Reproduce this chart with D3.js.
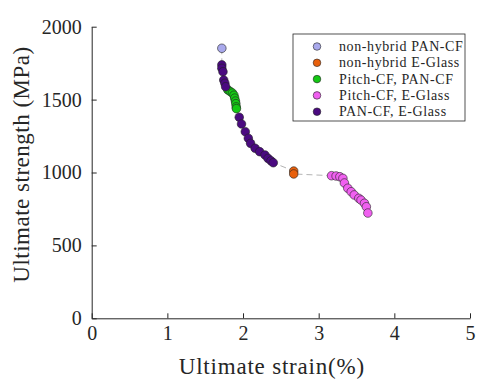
<!DOCTYPE html>
<html>
  <head>
    <meta charset="utf-8">
    <title>Ultimate strength vs ultimate strain</title>
    <script src="https://d3js.org/d3.v7.min.js"></script>
    <style>
      body { margin: 0; background: #fff; }
      text { font-family: "Liberation Serif", "DejaVu Serif", serif; fill: #262626; }
    </style>
  </head>
  <body>
  <svg id="chart" width="477" height="387"></svg>
  <script>
    // series: [strain %, strength MPa]
    var panCF = [[1.72, 1852]];
    var eGlass = [[2.67, 1010], [2.67, 990]];
    var pitchPan = [
      [1.80, 1566], [1.83, 1556], [1.86, 1545], [1.88, 1530], [1.89, 1510],
      [1.90, 1490], [1.905, 1472], [1.91, 1450], [1.913, 1438]
    ];
    var pitchGlass = [
      [3.17, 978], [3.23, 976], [3.28, 971], [3.32, 960], [3.34, 928],
      [3.385, 892], [3.43, 868], [3.47, 846], [3.53, 823], [3.56, 811],
      [3.605, 789], [3.63, 765], [3.65, 722]
    ];
    var panGlass = [
      [1.72, 1738], [1.72, 1715], [1.735, 1691], [1.745, 1634], [1.76, 1612],
      [1.77, 1588], [1.95, 1379], [1.98, 1333], [2.03, 1280], [2.07, 1235],
      [2.10, 1200], [2.16, 1166], [2.22, 1143], [2.29, 1120], [2.33, 1097],
      [2.37, 1080], [2.40, 1067]
    ];

    var labels = ["non-hybrid PAN-CF", "non-hybrid E-Glass", "Pitch-CF, PAN-CF", "Pitch-CF, E-Glass", "PAN-CF, E-Glass"];
    var colors = ["#a9a9ec", "#e8600c", "#14c814", "#f060f0", "#4a0a80"];
    var xTicks = [0, 1, 2, 3, 4, 5];
    var yTicks = [0, 500, 1000, 1500, 2000];

    var series = [panCF, eGlass, pitchPan, pitchGlass, panGlass];

    var margin = { top: 26.7, left: 91.7 };
    var width = 378.3;
    var height = 291.6;

    var svg = d3.select("#chart")
      .append("g")
      .attr("transform", "translate(" + margin.left + "," + margin.top + ")");

    var x = d3.scaleLinear().domain([0, 5]).range([0, width]);
    var y = d3.scaleLinear().domain([0, 2000]).range([height, 0]);

    // 軸
    var xAxis = svg.append("g")
      .attr("transform", "translate(0," + height + ")")
      .call(d3.axisBottom(x).tickValues(xTicks).tickFormat(d3.format("d"))
        .tickSizeInner(-5).tickSizeOuter(0).tickPadding(8));
    var yAxis = svg.append("g")
      .call(d3.axisLeft(y).tickValues(yTicks).tickFormat(d3.format("d"))
        .tickSizeInner(-5).tickSizeOuter(0).tickPadding(10));

    [xAxis, yAxis].forEach(function(a) {
      a.select(".domain").attr("stroke", "#262626");
      a.selectAll(".tick line").attr("stroke", "#262626");
      a.selectAll(".tick text")
        .style("font-family", "Liberation Serif")
        .style("font-size", "20px")
        .attr("fill", "#262626");
    });

    // トレンド線 (全点を歪みの順に結ぶ)
    var all = [].concat(panCF, panGlass, pitchPan, eGlass, pitchGlass)
      .sort(function(a, b) { return d3.ascending(a[0], b[0]) || d3.descending(a[1], b[1]); });
    svg.append("path")
      .datum(all)
      .attr("fill", "none")
      .attr("stroke", "#b4b4b4")
      .attr("stroke-width", 1)
      .attr("stroke-dasharray", "6,4")
      .attr("d", d3.line().x(function(d) { return x(d[0]); }).y(function(d) { return y(d[1]); }));

    // 点
    series.forEach(function(s, i) {
      svg.append("g").selectAll("circle")
        .data(s)
        .enter()
        .append("circle")
        .attr("cx", function(d) { return x(d[0]); })
        .attr("cy", function(d) { return y(d[1]); })
        .attr("r", 4.3)
        .attr("fill", colors[i])
        .attr("stroke", "#222")
        .attr("stroke-width", 0.6);
    });

    // 軸ラベル
    svg.append("text")
      .attr("x", width / 2 - 9)
      .attr("y", height + 56)
      .attr("text-anchor", "middle")
      .style("font-size", "23px")
      .style("letter-spacing", "0.8px")
      .text("Ultimate strain(%)");
    svg.append("text")
      .attr("transform", "translate(" + (-margin.left + 29) + "," + (height / 2 - 8) + ") rotate(-90)")
      .attr("text-anchor", "middle")
      .style("font-size", "23px")
      .style("letter-spacing", "0.5px")
      .text("Ultimate strength (MPa)");

    // 凡例
    var legend = d3.select("#chart").append("g")
      .attr("transform", "translate(293,34)");
    legend.append("rect")
      .attr("width", 172)
      .attr("height", 87)
      .attr("fill", "#fff")
      .attr("stroke", "#262626")
      .attr("stroke-width", 0.8);
    labels.forEach(function(l, i) {
      var row = legend.append("g").attr("transform", "translate(0," + (12.5 + i * 16.3) + ")");
      row.append("circle")
        .attr("cx", 24)
        .attr("r", 3.8)
        .attr("fill", colors[i])
        .attr("stroke", "#222")
        .attr("stroke-width", 0.6);
      row.append("text")
        .attr("x", 46)
        .attr("y", 4.5)
        .style("font-size", "14px")
        .style("letter-spacing", "0.6px")
        .text(l);
    });
  </script>
  </body>
</html>
